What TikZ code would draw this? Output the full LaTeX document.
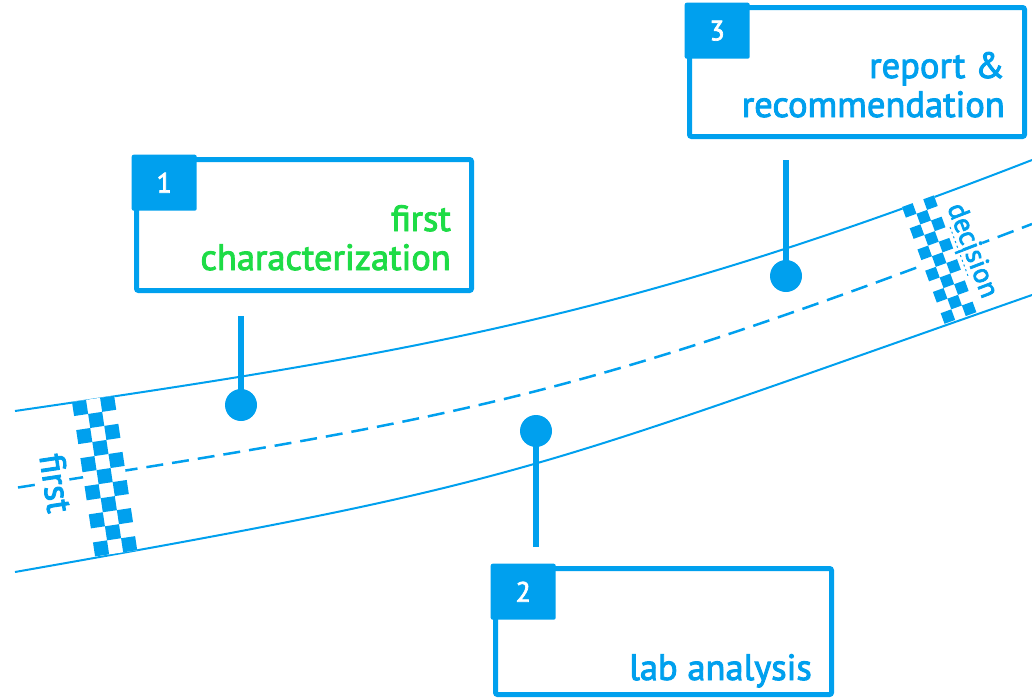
\documentclass[tikz,border=0pt]{standalone}
\usepackage{fontspec}
\setmainfont{PT Sans}
\newfontfamily\lblfont{PT Sans}[FakeBold=2.5]
\definecolor{blu}{RGB}{0,160,238}
\definecolor{grn}{RGB}{30,220,70}
\begin{document}
\begin{tikzpicture}[x=1pt,y=-1pt,
  road/.style={blu, line width=2pt},
  mid/.style={blu, line width=2.5pt, dash pattern=on 17pt off 9pt},
  boxframe/.style={draw=blu, line width=5pt, rounded corners=2pt, fill=white, inner sep=0pt},
  tab/.style={fill=blu, rounded corners=2pt, inner sep=0pt, minimum width=65pt, minimum height=56pt, text=white, font=\lblfont\fontsize{28}{32}\selectfont},
  lab/.style={font=\lblfont\fontsize{36.5}{39}\selectfont, align=right, inner sep=0pt, anchor=base east},
  pin/.style={circle, fill=blu, minimum size=32pt, inner sep=0pt},
  stem/.style={blu, line width=6pt},
  flagtext/.style={fill=white, inner sep=0pt, text=blu}
]
\useasboundingbox (0,0) rectangle (1032,699);
% road
\draw[road] (15,411) .. controls (415,352.6) and (632,315.6) .. (1032,160);
\draw[road] (15,572) .. controls (528,481.7) and (519,474.6) .. (1032,295);
\draw[mid] (18,487.5) .. controls (468,416.8) and (582,396.4) .. (1032,224);
% start checker
\begin{scope}[shift={(72,402)}, rotate=8.5]
  \fill[white] (0,0) rectangle (42.6,156.2);
  \foreach \i in {0,...,10}{\foreach \j in {0,1,2}{
    \ifodd\numexpr\i+\j\relax\else\fill[blu] (\j*14.2,\i*14.2) rectangle ++(14.2,14.2);\fi}}
\end{scope}
\node[flagtext, rotate=-81.5, font=\lblfont\fontsize{36}{40}\selectfont] (tfirst) at (56,483) {first};
% decision checker
\begin{scope}[shift={(902,207)}, rotate=20]
  \fill[white] (0,0) rectangle (33.9,124.3);
  \foreach \i in {0,...,10}{\foreach \j in {0,1,2}{
    \ifodd\numexpr\i+\j\relax\else\fill[blu] (\j*11.3,\i*11.3) rectangle ++(11.3,11.3);\fi}}
\end{scope}
\node[flagtext, rotate=-69, font=\lblfont\fontsize{28}{32}\selectfont] (tdec) at (974,250) {decision};
\coordinate (u1) at (950,227);
\coordinate (u2) at (968,276);
\draw[blu, line width=1pt, dash pattern=on 2pt off 3pt] (u1) -- (u2);
% pins
\node[pin] (p1) at (241,405) {};
\node[pin] (p2) at (536,431) {};
\node[pin] (p3) at (786,276) {};
\coordinate (s1) at (241,316);
\coordinate (s2) at (536,547);
\coordinate (s3) at (786,160);
\draw[stem] (s1) -- (p1.center);
\draw[stem] (s2) -- (p2.center);
\draw[stem] (s3) -- (p3.center);
% boxes
\node[boxframe, minimum width=335pt, minimum height=131pt] (b1) at (304,225) {};
\node[boxframe, minimum width=335pt, minimum height=129pt] (b3) at (857,72) {};
\node[boxframe, minimum width=336pt, minimum height=126pt] (b2) at (663.5,631.5) {};
\node[tab, anchor=north west] (n1) at ([xshift=-2.5pt,yshift=2.5pt]b1.north west) {1};
\node[tab, anchor=north west] (n3) at ([xshift=-2.5pt,yshift=2.5pt]b3.north west) {3};
\node[tab, anchor=north west] (n2) at ([xshift=-2.5pt,yshift=2.5pt]b2.north west) {2};
\node[lab, text=grn] (l1) at (451,270) {first\\characterization};
\node[lab, text=blu] (l3) at (1005,117) {report \&\\recommendation};
\node[lab, text=blu] (l2) at (812,680) {lab analysis};
\end{tikzpicture}
\end{document}
